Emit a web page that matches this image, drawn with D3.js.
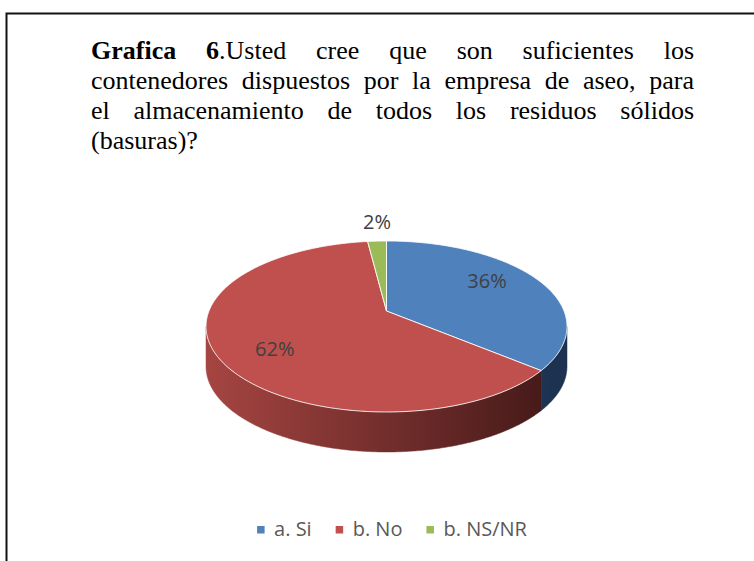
<!DOCTYPE html>
<html>
<head>
<meta charset="utf-8">
<script src="https://cdn.jsdelivr.net/npm/d3@7"></script>
<style>
  body { margin: 0; background: #fff; }
  svg { display: block; }
</style>
</head>
<body>
<script>
// Data
const categories = ["a. Si", "b. No", "b. NS/NR"];
const values = [36, 62, 2];
const colors = ["#4F81BD", "#C0504D", "#9BBB59"];
// side shading: [light (left), dark (right)]
const sideColors = [["#3b6494", "#1c3250"], ["#a64542", "#431918"], ["#7d9a45", "#4b5f28"]];
const titleBold = "Grafica 6";
const titleLines = [
  "Grafica 6.Usted cree que son suficientes los",
  "contenedores dispuestos por la empresa de aseo, para",
  "el almacenamiento de todos los residuos sólidos",
  "(basuras)?"
];

// Layout
const width = 754, height = 561;
const frame = {x: 6.5, y: 13.5};
const title = {left: 91, right: 694, top: 58.5, lineHeight: 30.2, size: 26};
// pie: apex position, outer ellipse radii, perspective factor, thickness
const pie3d = {cx: 386.5, cy: 311, rx: 180.5, ry: 85.5, q: -0.181, depth: 40};
const labelRadius = 0.72;
const labelTurn = -0.13;
const legend = {center: 392, y: 535.5, box: 7.5, gap: 9.5, spacing: 24, size: 20};

const svg = d3.select("body").append("svg")
  .attr("width", width)
  .attr("height", height)
  .attr("viewBox", [0, 0, width, height]);

// Frame (only left and top edges are in view)
svg.append("path")
  .attr("d", `M${width},${frame.y}H${frame.x}V${height}`)
  .attr("fill", "none")
  .attr("stroke", "#111")
  .attr("stroke-width", 2);

// Title, justified like the source document
const titleG = svg.append("g")
  .attr("font-family", "'Liberation Serif', 'Times New Roman', serif")
  .attr("font-size", title.size)
  .attr("fill", "#000");

let charIndex = 0;
titleLines.forEach((line, li) => {
  const words = line.split(" ");
  const y = title.top + li * title.lineHeight;
  const nodes = words.map(w => {
    const text = titleG.append("text").attr("y", y);
    const start = charIndex;
    const boldLen = Math.max(0, Math.min(w.length, titleBold.length - start));
    if (boldLen > 0) text.append("tspan").attr("font-weight", "bold").text(w.slice(0, boldLen));
    if (boldLen < w.length) text.append("tspan").text(w.slice(boldLen));
    charIndex += w.length + 1;
    return text;
  });
  const widths = nodes.map(n => n.node().getComputedTextLength());
  const total = d3.sum(widths);
  const last = li === titleLines.length - 1;
  const gap = last || nodes.length < 2
    ? title.size * 0.25
    : (title.right - title.left - total) / (nodes.length - 1);
  let x = title.left;
  nodes.forEach((n, i) => {
    n.attr("x", x);
    x += widths[i] + gap;
  });
});

// 3D pie with perspective
const {cx, cy, rx, ry, q, depth} = pie3d;
const A = rx * Math.sqrt(1 - q * q);
const B = ry * (1 - q * q);

// angle clockwise from 12 o'clock, f = fraction of radius
const project = (a, f = 1) => {
  const s = f * Math.sin(a), t = -f * Math.cos(a);
  const d = 1 + q * t;
  return [cx + A * s / d, cy + B * t / d];
};

const arcPoints = (a0, a1, f = 1) => {
  const n = Math.max(2, Math.ceil(Math.abs(a1 - a0) / 0.01));
  return d3.range(n + 1).map(i => project(a0 + (a1 - a0) * i / n, f));
};

const arcs = d3.pie().sort(null).startAngle(0).endAngle(2 * Math.PI)(values);

const defs = svg.append("defs");
sideColors.forEach((c, i) => {
  const g = defs.append("linearGradient")
    .attr("id", `side${i}`)
    .attr("gradientUnits", "userSpaceOnUse")
    .attr("x1", cx - rx).attr("x2", cx + rx * 0.93)
    .attr("y1", 0).attr("y2", 0);
  g.append("stop").attr("offset", 0).attr("stop-color", c[0]);
  g.append("stop").attr("offset", 1).attr("stop-color", c[1]);
});

const line = d3.line();
const visLo = Math.acos(q);
const visHi = 2 * Math.PI - Math.acos(q);

// Sides (front half only)
const sides = svg.append("g");
arcs.forEach((d, i) => {
  const lo = Math.max(d.startAngle, visLo);
  const hi = Math.min(d.endAngle, visHi);
  if (hi <= lo) return;
  const topEdge = arcPoints(lo, hi);
  const bottomEdge = topEdge.map(([x, y]) => [x, y + depth]).reverse();
  sides.append("path")
    .attr("d", line(topEdge.concat(bottomEdge)) + "Z")
    .attr("fill", `url(#side${i})`)
    .attr("stroke", `url(#side${i})`)
    .attr("stroke-width", 0.5);
});

// Top faces
svg.append("g")
  .selectAll("path")
  .data(arcs)
  .join("path")
  .attr("d", d => line([[cx, cy]].concat(arcPoints(d.startAngle, d.endAngle))) + "Z")
  .attr("fill", (d, i) => colors[i])
  .attr("stroke", "#fff")
  .attr("stroke-opacity", 0.85)
  .attr("stroke-width", 1)
  .attr("stroke-linejoin", "round");

// Data labels
const total = d3.sum(values);
svg.append("g")
  .attr("font-family", "'Open Sans', sans-serif")
  .attr("font-size", 20)
  .attr("fill", "#404040")
  .attr("text-anchor", "middle")
  .selectAll("text")
  .data(arcs)
  .join("text")
  .each(function(d) {
    const mid = (d.startAngle + d.endAngle) / 2;
    const pct = d.value / total;
    let x, y;
    if (pct < 0.05) {
      [x, y] = project(mid, 1);
      y -= 12;
    } else {
      [x, y] = project(mid + labelTurn, labelRadius);
      y += 7;
    }
    d3.select(this).attr("x", x).attr("y", y);
  })
  .text(d => `${Math.round(d.value / total * 100)}%`);

// Legend
const legendG = svg.append("g")
  .attr("font-family", "'Open Sans', sans-serif")
  .attr("font-size", legend.size)
  .attr("fill", "#595959");
const items = categories.map((c, i) => {
  const g = legendG.append("g");
  g.append("rect")
    .attr("width", legend.box)
    .attr("height", legend.box)
    .attr("y", legend.y - 9.5)
    .attr("fill", colors[i]);
  const t = g.append("text")
    .attr("x", legend.box + legend.gap)
    .attr("y", legend.y)
    .text(c);
  return {g, w: legend.box + legend.gap + t.node().getComputedTextLength()};
});
const legendWidth = d3.sum(items, d => d.w) + legend.spacing * (items.length - 1);
let lx = legend.center - legendWidth / 2;
items.forEach(it => {
  it.g.attr("transform", `translate(${lx},0)`);
  lx += it.w + legend.spacing;
});
</script>
</body>
</html>
